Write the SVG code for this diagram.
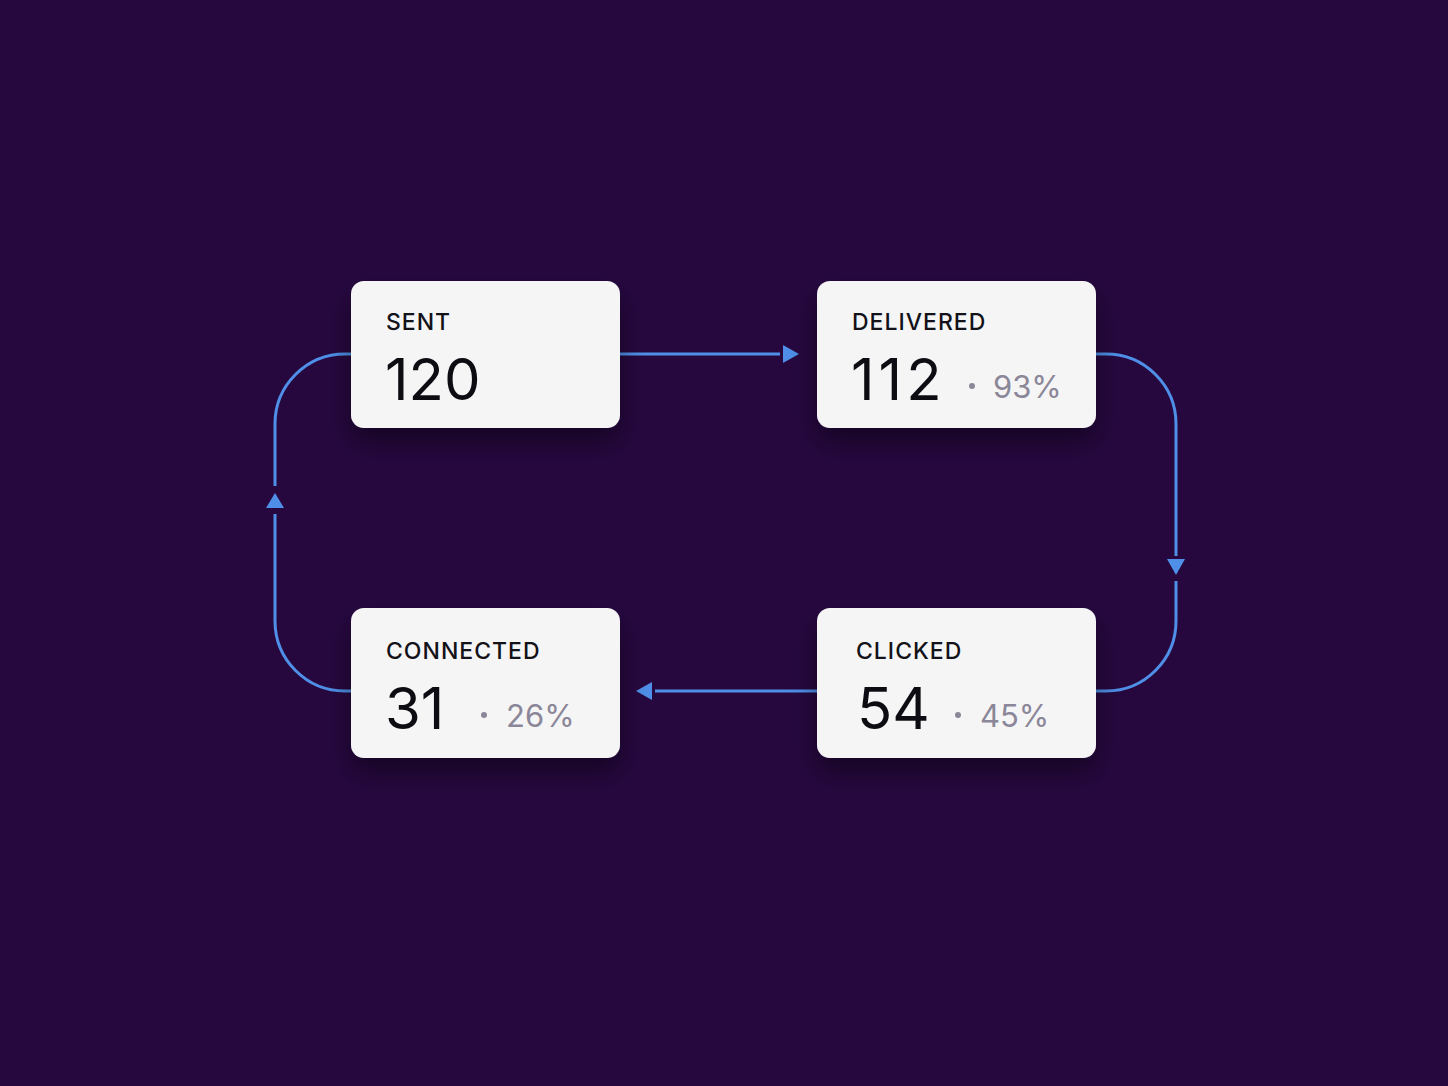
<svg xmlns="http://www.w3.org/2000/svg" width="1448" height="1086" viewBox="0 0 1448 1086">
<defs>
<filter id="shadow" x="-30%" y="-30%" width="160%" height="180%">
<feDropShadow dx="0" dy="14" stdDeviation="14" flood-color="#000000" flood-opacity="0.45"/>
</filter>
</defs>
<style>
.card{fill:#f5f5f6;filter:url(#shadow)}
.label{font-family:Inter,"Noto Sans",sans-serif;font-size:23px;font-weight:500;fill:#131218;letter-spacing:1px}
.num{font-family:Inter,"Noto Sans",sans-serif;font-size:58px;font-weight:400;fill:#0d0c12}
.pct{font-family:Inter,"Noto Sans",sans-serif;font-size:31px;font-weight:400;fill:#8b8798}
.dot{fill:#8b8798}
.edge{fill:none;stroke:#4f8fe8;stroke-width:3}
.head{fill:#4f8fe8}
</style>
<rect width="1448" height="1086" fill="#26083f"/>
<g id="connectors">
<path class="edge" d="M620,354 H780"/>
<path class="head" d="M783,345 L799,354 L783,363 Z"/>
<path class="edge" d="M1096,354 H1106 A70,70 0 0 1 1176,424 V556"/>
<path class="head" d="M1167,559 L1185,559 L1176,575 Z"/>
<path class="edge" d="M1176,581 V621 A70,70 0 0 1 1106,691 H1096"/>
<path class="edge" d="M817,691 H655"/>
<path class="head" d="M652,682 L636,691 L652,700 Z"/>
<path class="edge" d="M351,691 H345 A70,70 0 0 1 275,621 V514"/>
<path class="head" d="M266,508 L284,508 L275,493 Z"/>
<path class="edge" d="M275,486 V424 A70,70 0 0 1 345,354 H351"/>
</g>
<g id="node-sent">
<rect class="card" x="351" y="281" width="269" height="147" rx="13"/>
<text class="label" x="386" y="330">SENT</text>
<text class="num" x="385" y="400">120</text>
</g>
<g id="node-delivered">
<rect class="card" x="817" y="281" width="279" height="147" rx="13"/>
<text class="label" x="852" y="330">DELIVERED</text>
<text class="num" x="851" y="400" style="letter-spacing:4px">112</text>
<circle class="dot" cx="972" cy="386" r="3"/>
<text class="pct" x="993" y="398">93%</text>
</g>
<g id="node-clicked">
<rect class="card" x="817" y="608" width="279" height="150" rx="13"/>
<text class="label" x="856" y="659">CLICKED</text>
<text class="num" x="857" y="729">54</text>
<circle class="dot" cx="958" cy="715" r="3"/>
<text class="pct" x="980" y="727">45%</text>
</g>
<g id="node-connected">
<rect class="card" x="351" y="608" width="269" height="150" rx="13"/>
<text class="label" x="386" y="659">CONNECTED</text>
<text class="num" x="385" y="729">31</text>
<circle class="dot" cx="484" cy="715" r="3"/>
<text class="pct" x="506" y="727">26%</text>
</g>
</svg>
